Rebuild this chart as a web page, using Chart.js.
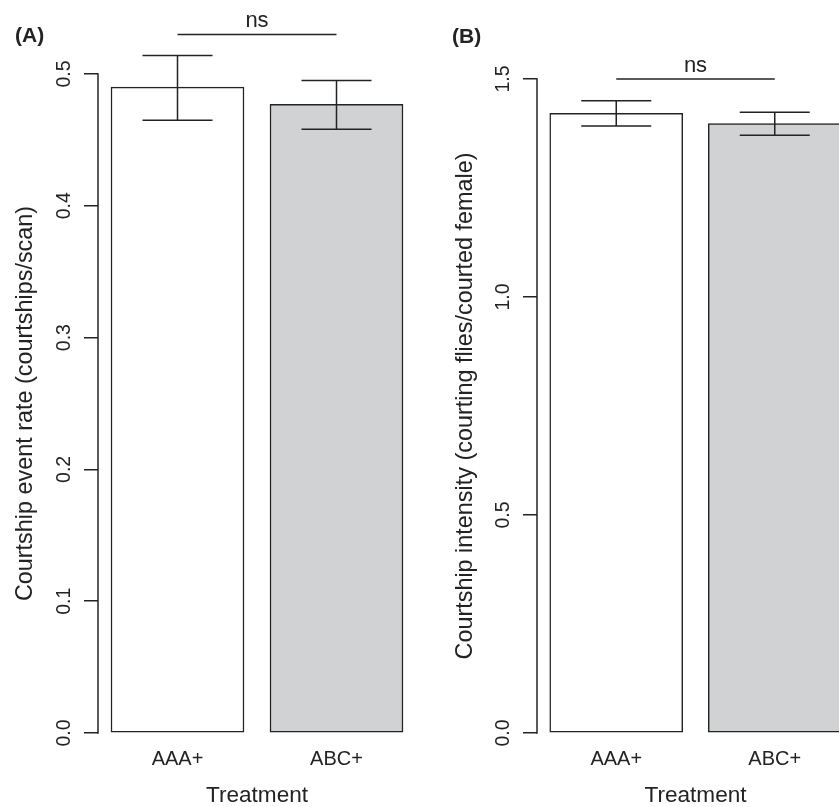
<!DOCTYPE html>
<html>
<head>
<meta charset="utf-8">
<script src="https://cdn.jsdelivr.net/npm/chart.js@4.4.1/dist/chart.umd.min.js"></script>
<style>
    html, body { margin: 0; padding: 0; background: #fff; overflow: hidden; width: 839px; height: 807px; }
    .panel { position: absolute; top: 0; height: 807px; }
    #panelA { left: 0; width: 420px; }
    #panelB { left: 420px; width: 440px; }
</style>
</head>
<body>
<div class="panel" id="panelA"><canvas id="chartA"></canvas></div>
<div class="panel" id="panelB"><canvas id="chartB"></canvas></div>
<script>
// treatments on the x axis
const categories = ['AAA+', 'ABC+'];

// (A) courtship event rate: means and error bar ends
const rateMeans = [0.490, 0.477];
const rateUpper = [0.514, 0.495];
const rateLower = [0.465, 0.458];
const rateTicks = [0, 0.1, 0.2, 0.3, 0.4, 0.5];
const rateBracket = 0.53;

// (B) courtship intensity
const intensityMeans = [1.421, 1.398];
const intensityUpper = [1.450, 1.424];
const intensityLower = [1.392, 1.371];
const intensityTicks = [0, 0.5, 1.0, 1.5];
const intensityBracket = 1.5;

const sigLabel = 'ns';

const ink = '#232323';
const barFill = ['#ffffff', '#d1d2d4'];
Chart.defaults.font.family = '"Liberation Sans", Arial, sans-serif';
Chart.defaults.color = ink;

function panelExtras(p) {
    return {
        id: 'panelExtras',
        afterDatasetsDraw(chart) {
            const ctx = chart.ctx;
            const x = chart.scales.x;
            const y = chart.scales.y;
            const left = chart.chartArea.left;
            ctx.save();
            ctx.strokeStyle = ink;
            ctx.lineWidth = 1.5;

            // R style axis line, only over the tick range
            ctx.beginPath();
            ctx.moveTo(left, y.getPixelForValue(p.ticks[0]) + 0.75);
            ctx.lineTo(left, y.getPixelForValue(p.ticks[p.ticks.length - 1]) - 0.75);
            ctx.stroke();

            // error bars (drawn past the plot region, like xpd in R)
            p.means.forEach((m, i) => {
                const cx = x.getPixelForValue(i);
                const top = y.getPixelForValue(p.upper[i]);
                const bot = y.getPixelForValue(p.lower[i]);
                ctx.beginPath();
                ctx.moveTo(cx, top); ctx.lineTo(cx, bot);
                ctx.moveTo(cx - 35, top); ctx.lineTo(cx + 35, top);
                ctx.moveTo(cx - 35, bot); ctx.lineTo(cx + 35, bot);
                ctx.stroke();
            });

            // significance bracket
            const x0 = x.getPixelForValue(0);
            const x1 = x.getPixelForValue(1);
            const by = y.getPixelForValue(p.bracket);
            ctx.beginPath();
            ctx.moveTo(x0, by); ctx.lineTo(x1, by);
            ctx.stroke();
            ctx.fillStyle = ink;
            ctx.font = '22px "Liberation Sans", Arial, sans-serif';
            ctx.textAlign = 'center';
            ctx.textBaseline = 'alphabetic';
            ctx.fillText(sigLabel, (x0 + x1) / 2, by - 7);

            // panel letter
            ctx.font = 'bold 21px "Liberation Sans", Arial, sans-serif';
            ctx.textAlign = 'left';
            ctx.textBaseline = 'middle';
            ctx.fillText(p.panel, p.labelX, p.labelY);
            ctx.restore();
        }
    };
}

function buildPanel(canvasId, p) {
    return new Chart(document.getElementById(canvasId), {
        type: 'bar',
        data: {
            labels: categories,
            datasets: [{
                data: p.means,
                backgroundColor: barFill,
                borderColor: ink,
                borderWidth: 1.5,
                borderSkipped: false,
                barThickness: 133
            }]
        },
        options: {
            animation: false,
            responsive: true,
            maintainAspectRatio: false,
            layout: { padding: { left: 0, right: p.padRight, top: p.padTop, bottom: 0 } },
            plugins: { legend: { display: false }, tooltip: { enabled: false } },
            scales: {
                x: {
                    grid: { display: false, drawTicks: false },
                    border: { display: false },
                    ticks: { color: ink, font: { size: 20 }, padding: 14 },
                    title: { display: true, text: 'Treatment', color: ink, font: { size: 22.6, lineHeight: 1 }, padding: 0 },
                    afterFit: s => { s.height = 74; }
                },
                y: {
                    min: 0,
                    max: p.max,
                    grid: { display: true, drawOnChartArea: false, drawTicks: true, tickLength: 14, color: ink, lineWidth: 1.5 },
                    border: { display: false },
                    ticks: {
                        minRotation: 90, maxRotation: 90, crossAlign: 'center', autoSkip: false,
                        padding: 6, color: ink, font: { size: 19.5 },
                        callback: v => v.toFixed(1)
                    },
                    title: { display: true, text: p.yTitle, color: ink, font: { size: 23.4 }, padding: { top: p.titlePad, bottom: 0 } },
                    afterBuildTicks: s => { s.ticks = p.ticks.map(v => ({ value: v })); },
                    afterFit: s => { s.width = p.axisWidth; s.paddingTop = 0; s.paddingBottom = 0; }
                }
            }
        },
        plugins: [panelExtras(p)]
    });
}

buildPanel('chartA', {
    panel: '(A)', labelX: 15, labelY: 36,
    means: rateMeans, upper: rateUpper, lower: rateLower,
    ticks: rateTicks, bracket: rateBracket,
    max: 0.5, padTop: 74, padRight: 4, axisWidth: 98, titlePad: 12,
    yTitle: 'Courtship event rate (courtships/scan)'
});

buildPanel('chartB', {
    panel: '(B)', labelX: 32, labelY: 37,
    means: intensityMeans, upper: intensityUpper, lower: intensityLower,
    ticks: intensityTicks, bracket: intensityBracket,
    max: 1.5, padTop: 79, padRight: 6, axisWidth: 117, titlePad: 32,
    yTitle: 'Courtship intensity (courting flies/courted female)'
});
</script>
</body>
</html>
